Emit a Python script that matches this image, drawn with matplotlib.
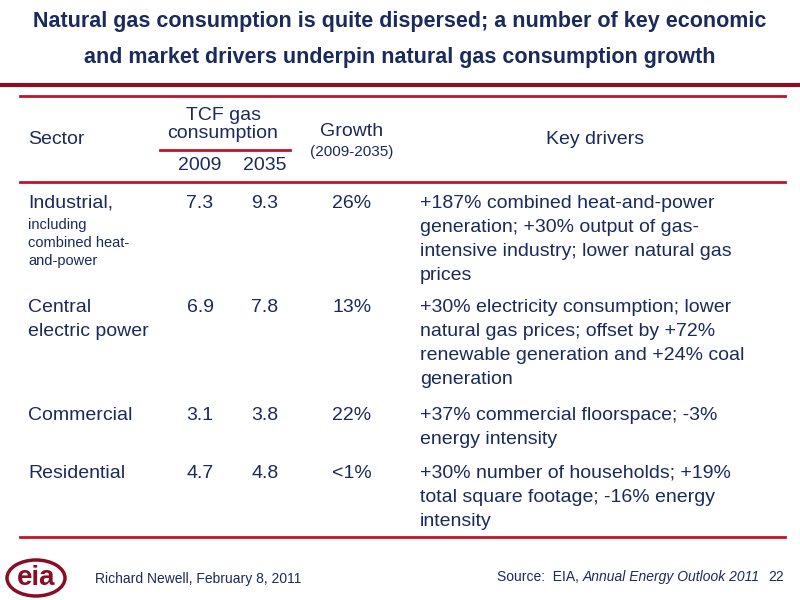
import matplotlib.pyplot as plt
from matplotlib.patches import Ellipse

NAVY = "#1b2a5c"
RED = "#c0142c"
DARK_RED = "#8b0d24"
FONT = ["Liberation Sans Narrow", "Liberation Sans", "DejaVu Sans"]

sectors = ["Industrial,", "Central\nelectric power", "Commercial", "Residential"]
cons_2009 = [7.3, 6.9, 3.1, 4.7]
cons_2035 = [9.3, 7.8, 3.8, 4.8]
growth = ["26%", "13%", "22%", "<1%"]
drivers = [
    ["+187% combined heat-and-power", "generation; +30% output of gas-",
     "intensive industry; lower natural gas", "prices"],
    ["+30% electricity consumption; lower", "natural gas prices; offset by +72%",
     "renewable generation and +24% coal", "generation"],
    ["+37% commercial floorspace; -3%", "energy intensity"],
    ["+30% number of households; +19%", "total square footage; -16% energy",
     "intensity"],
]
row_y = [203, 307, 415, 473]

fig = plt.figure(figsize=(8, 6), dpi=100)
ax = fig.add_axes([0, 0, 1, 1])
ax.set_xlim(0, 800)
ax.set_ylim(600, 0)
ax.axis("off")

def t(x, y, s, size=14, ha="left", **kw):
    ax.text(x, y, s, fontsize=size, ha=ha, va="center", color=NAVY,
            family=FONT, **kw)

# Title
t(400, 22, "Natural gas consumption is quite dispersed; a number of key economic",
  size=15.5, ha="center", fontweight="bold")
t(400, 58, "and market drivers underpin natural gas consumption growth",
  size=15.5, ha="center", fontweight="bold")
ax.plot([0, 800], [85, 85], color=DARK_RED, lw=3)

# Table lines
ax.plot([20, 785], [96, 96], color=RED, lw=2)
ax.plot([160, 290], [150, 150], color=RED, lw=2)
ax.plot([20, 785], [182, 182], color=RED, lw=2)
ax.plot([20, 785], [537, 537], color=RED, lw=2)

# Header
t(28, 140, "Sector")
t(223, 116, "TCF gas", ha="center")
t(223, 134, "consumption", ha="center")
t(200, 166, "2009", ha="center")
t(265, 166, "2035", ha="center")
t(352, 131, "Growth", ha="center")
t(352, 152, "(2009-2035)", size=11, ha="center")
t(595, 140, "Key drivers", ha="center")

# Rows
for i, y in enumerate(row_y):
    for j, line in enumerate(sectors[i].split("\n")):
        t(28, y + j * 24, line)
    t(200, y, f"{cons_2009[i]:.1f}", ha="center")
    t(265, y, f"{cons_2035[i]:.1f}", ha="center")
    t(352, y, growth[i], ha="center")
    for j, line in enumerate(drivers[i]):
        t(420, y + j * 24, line)
for j, line in enumerate(["including", "combined heat-", "and-power"]):
    t(28, 225 + j * 18, line, size=10.5)

# Footer
ax.add_patch(Ellipse((36, 578), 58, 36, fill=False, ec=DARK_RED, lw=2.5))
ax.text(36, 578, "eia", fontsize=20, ha="center", va="center", color=DARK_RED,
        fontweight="bold", family=FONT)
t(95, 579, "Richard Newell, February 8, 2011", size=10)
t(497, 577, "Source:  EIA, ", size=10)
t(583, 577, "Annual Energy Outlook 2011", size=10, style="italic")
t(784, 577, "22", size=10, ha="right")

plt.savefig("out.png", dpi=100, facecolor="white")
